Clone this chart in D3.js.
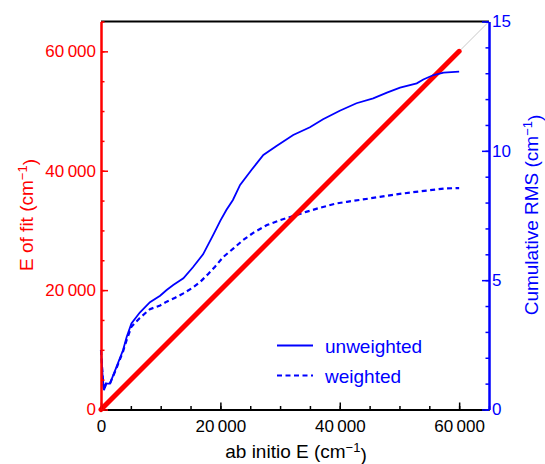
<!DOCTYPE html>
<html>
<head>
<meta charset="utf-8">
<script src="https://cdn.jsdelivr.net/npm/d3@7"></script>
<style>
  body { margin: 0; background: #fff; }
  text { font-family: "Liberation Sans", Arial, sans-serif; }
</style>
</head>
<body>
<div id="container"></div>
<script>
// ab initio E (cm-1) vs cumulative RMS (cm-1)
const unweighted = [[0,2.3],[300,1.2],[500,0.75],[850,1.0],[1500,1.0],[2600,1.65],[3700,2.3],[4300,2.8],[5100,3.33],
  [6500,3.75],[8200,4.15],[9900,4.4],[11000,4.62],[12100,4.81],[13800,5.07],[15400,5.5],[17100,6.0],[18800,6.75],
  [20000,7.3],[21000,7.71],[22100,8.1],[23300,8.68],[25200,9.26],[27200,9.84],[29400,10.19],[32200,10.61],
  [35000,10.91],[37200,11.22],[40000,11.55],[42800,11.84],[45600,12.03],[47900,12.25],[50100,12.44],
  [52900,12.61],[54000,12.76],[55700,12.93],[57400,13.02],[60000,13.06]];
const weighted = [[0,2.3],[300,1.2],[500,0.75],[850,1.0],[1500,1.0],[2600,1.6],[3700,2.25],[4300,2.69],[5100,3.2],
  [6500,3.54],[8200,3.88],[9900,4.02],[11000,4.17],[12500,4.33],[13800,4.49],[15300,4.7],[16700,4.95],
  [18000,5.25],[19100,5.52],[20500,5.9],[22200,6.23],[23800,6.55],[25500,6.83],[27800,7.13],[30000,7.32],
  [32200,7.48],[34500,7.65],[36700,7.8],[39500,7.97],[41200,8.03],[43900,8.12],[46700,8.22],[49500,8.32],
  [52300,8.4],[55100,8.48],[57900,8.55],[60000,8.56]];
// E of fit vs ab initio E
const fitLine = [[0,0],[60000,60000]];
const diagonal = [[0,0],[65000,65000]];

const eTicks = [0,20000,40000,60000];
const eMinorTicks = d3.range(0,65001,5000);
const rmsTicks = [0,5,10,15];
const rmsMinorTicks = d3.range(0,16,1);
const legendNames = ["unweighted","weighted"];

const w = 545, h = 464;
const plotLeft = 101, plotRight = 489, plotTop = 21.5, plotBottom = 409.5;
const red = "#ff0000", blue = "#0000ff";

const xScale = d3.scaleLinear().domain([0,65000]).range([plotLeft,plotRight]);
const yScale = d3.scaleLinear().domain([0,65000]).range([plotBottom,plotTop]);
const rmsScale = d3.scaleLinear().domain([0,15]).range([plotBottom,plotTop]);

const fmt = v => d3.format(",")(v).replace(",", "\u2009");

const svg = d3.select("#container").append("svg")
  .attr("width", w).attr("height", h);

// reference diagonal
svg.append("path")
  .attr("d", d3.line().x(d => xScale(d[0])).y(d => yScale(d[1]))(diagonal))
  .attr("stroke","#c8c8c8").attr("stroke-width",1).attr("fill","none");

// top frame line
svg.append("line")
  .attr("x1",plotLeft).attr("x2",plotRight).attr("y1",plotTop).attr("y2",plotTop)
  .attr("stroke","#000").attr("stroke-width",2);

const rmsLine = d3.line().x(d => xScale(d[0])).y(d => rmsScale(d[1]));

svg.append("path")
  .attr("d", rmsLine(weighted))
  .attr("stroke",blue).attr("stroke-width",2.2).attr("fill","none")
  .attr("stroke-dasharray","5,3.5");

svg.append("path")
  .attr("d", d3.line().x(d => xScale(d[0])).y(d => yScale(d[1]))(fitLine))
  .attr("stroke",red).attr("stroke-width",5).attr("fill","none")
  .attr("stroke-linecap","round");

svg.append("path")
  .attr("d", rmsLine(unweighted))
  .attr("stroke",blue).attr("stroke-width",1.8).attr("fill","none");

// axes
function styleAxis(g, color) {
  g.select(".domain").attr("stroke",color).attr("stroke-width",2);
  g.selectAll(".tick line").attr("stroke",color).attr("stroke-width",1.5);
  g.selectAll(".tick text").attr("fill",color).style("font-size","17px")
    .style("font-family",'"Liberation Sans", Arial, sans-serif');
}

const xMinor = svg.append("g").attr("transform","translate(0,"+plotBottom+")")
  .call(d3.axisBottom(xScale).tickValues(eMinorTicks).tickSize(-3.5).tickSizeOuter(0).tickFormat(""));
styleAxis(xMinor,"#000");
const xAxis = svg.append("g").attr("transform","translate(0,"+plotBottom+")")
  .call(d3.axisBottom(xScale).tickValues(eTicks).tickSize(-7).tickSizeOuter(0).tickPadding(10).tickFormat(fmt));
styleAxis(xAxis,"#000");

const yMinor = svg.append("g").attr("transform","translate("+plotLeft+",0)")
  .call(d3.axisLeft(yScale).tickValues(eMinorTicks).tickSize(-3.5).tickSizeOuter(0).tickFormat(""));
styleAxis(yMinor,red);
const yAxis = svg.append("g").attr("transform","translate("+plotLeft+",0)")
  .call(d3.axisLeft(yScale).tickValues(eTicks).tickSize(-7).tickSizeOuter(0).tickPadding(5).tickFormat(fmt));
styleAxis(yAxis,red);

const rMinor = svg.append("g").attr("transform","translate("+plotRight+",0)")
  .call(d3.axisRight(rmsScale).tickValues(rmsMinorTicks).tickSize(-3.5).tickSizeOuter(0).tickFormat(""));
styleAxis(rMinor,blue);
const rAxis = svg.append("g").attr("transform","translate("+plotRight+",0)")
  .call(d3.axisRight(rmsScale).tickValues(rmsTicks).tickSize(-7).tickSizeOuter(0).tickPadding(3));
styleAxis(rAxis,blue);

// axis titles
function title(x, y, rot, color, label) {
  const t = svg.append("text")
    .attr("transform","translate("+x+","+y+")"+(rot ? " rotate(-90)" : ""))
    .attr("text-anchor","middle")
    .attr("fill",color)
    .style("font-size","19px");
  t.append("tspan").text(label + " (cm");
  t.append("tspan").text("\u22121").attr("dy","-0.5em").style("font-size","13px");
  t.append("tspan").text(")").attr("dy","0.5em");
}
title(296, 458, false, "#000", "ab initio E");
title(33, 215, true, red, "E of fit");
title(538, 215, true, blue, "Cumulative RMS");

// legend
const legend = svg.append("g");
legendNames.forEach((name, i) => {
  const ly = 345.5 + i * 30;
  legend.append("line")
    .attr("x1",277).attr("x2",313).attr("y1",ly).attr("y2",ly)
    .attr("stroke",blue).attr("stroke-width", i ? 2.2 : 1.8)
    .attr("stroke-dasharray", i ? "5,3.5" : null);
  legend.append("text")
    .attr("x",325).attr("y",ly + 7)
    .attr("fill",blue).style("font-size","19px")
    .text(name);
});
</script>
</body>
</html>
